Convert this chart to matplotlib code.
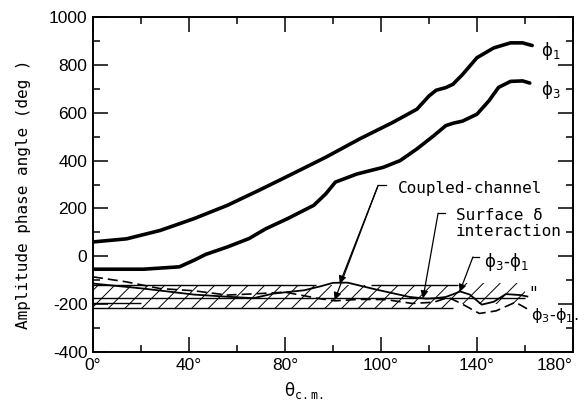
import matplotlib
matplotlib.use("Agg")
import matplotlib.pyplot as plt

# angle axis is drawn on a 0..200 scale, labels copied as printed in the figure
x_ticks = [0, 40, 80, 120, 160, 200]
x_labels = ["0°", "40°", "80°", "100°", "140°", "180°"]
y_ticks = [-400, -200, 0, 200, 400, 600, 800, 1000]

phi1_x = [0, 14, 28, 42, 56, 69, 83, 97, 111, 125, 135, 140, 143, 147, 150, 154, 160, 167, 174, 179, 183]
phi1_y = [60, 73, 108, 157, 213, 275, 344, 414, 490, 560, 615, 670, 694, 705, 719, 760, 830, 871, 892, 892, 881]

phi3_x = [0, 21, 36, 42, 47, 56, 65, 72, 81, 92, 97, 101, 110, 121, 128, 135, 142, 147, 150, 154, 160,
          165, 169, 174, 179, 182]
phi3_y = [-54, -54, -44, -17, 8, 39, 74, 115, 157, 213, 261, 310, 344, 372, 400, 449, 504, 546, 556, 565,
          594, 650, 706, 731, 733, 724]

# phi3 - phi1, coupled channel (solid) and surface delta (dashed)
cc_x = [0, 21, 42, 56, 67, 75, 88, 95, 100, 106, 118, 132, 139, 143, 147, 151, 153, 157, 162, 167, 172, 178, 181]
cc_y = [-114, -135, -160, -169, -175, -156, -142, -125, -111, -110, -139, -170, -177, -175, -170, -155, -147,
        -160, -202, -190, -158, -162, -168]

sd_x = [0, 14, 28, 42, 56, 69, 80, 88, 95, 101, 111, 122, 133, 142, 148, 153, 161, 168, 176, 181]
sd_y = [-86, -107, -135, -144, -162, -156, -150, -165, -178, -186, -180, -181, -197, -192, -172, -195, -239,
        -228, -192, -220]

plt.rcParams["axes.unicode_minus"] = False
plt.rcParams["hatch.linewidth"] = 0.7
mono = "DejaVu Sans Mono"

fig = plt.figure(figsize=(5.79, 4.13), dpi=100)
ax = fig.add_axes([0.1606, 0.1477, 0.829, 0.8111])

# hatched band
ax.fill_between([0, 150], -120, -215, hatch="//", facecolor="none", edgecolor="k", linewidth=0)
ax.fill_between([150, 180], -110, -200, hatch="//", facecolor="none", edgecolor="k", linewidth=0)
ax.hlines(-120, 0, 93, color="k", lw=1.0)
ax.hlines(-120, 116, 152, color="k", lw=1.0)
ax.hlines(-175, 0, 180, color="k", lw=1.0)
ax.hlines(-195, 0, 20, color="k", lw=1.0)
ax.hlines(-215, 0, 150, color="k", lw=1.0)

ax.plot(phi1_x, phi1_y, color="k", lw=2.6, solid_capstyle="round")
ax.plot(phi3_x, phi3_y, color="k", lw=2.6, solid_capstyle="round")
ax.plot(cc_x, cc_y, color="k", lw=1.3)
ax.plot(sd_x, sd_y, color="k", lw=1.2, ls=(0, (6, 3)))

arrow = dict(arrowstyle="-|>", color="k", lw=0.9, shrinkA=0, shrinkB=0, mutation_scale=11)

# Coupled-channel
ax.plot([118.8, 122.2], [296, 296], color="k", lw=0.9)
ax.annotate("", xy=(102.8, -114), xytext=(118.8, 296), arrowprops=arrow)
ax.annotate("", xy=(100.7, -183), xytext=(118.8, 296), arrowprops=arrow)
ax.text(127, 284, "Coupled-channel", family=mono, fontsize=11.5, va="center")

# Surface delta interaction
ax.plot([143.8, 146.5], [180, 180], color="k", lw=0.9)
ax.annotate("", xy=(137.5, -176), xytext=(143.8, 180), arrowprops=arrow)
ax.text(151.2, 136, "Surface δ\ninteraction", family=mono, fontsize=11.5, va="center", linespacing=1.05)

# phi3 - phi1
ax.plot([158.3, 161.0], [-3, -3], color="k", lw=0.9)
ax.annotate("", xy=(152.8, -149), xytext=(158.3, -3), arrowprops=arrow)
ax.text(163, -22, "ϕ$_3$-ϕ$_1$", fontsize=12, va="center")

ax.text(186.5, 858, "ϕ$_1$", fontsize=12, va="center")
ax.text(186.5, 695, "ϕ$_3$", fontsize=12, va="center")
ax.text(182.0, -158, '"', fontsize=12, va="center")
ax.text(182.5, -248, "ϕ$_3$-ϕ$_1$.", fontsize=11.5, va="center")

ax.set_xlim(0, 200)
ax.set_ylim(-400, 1000)
ax.set_xticks(x_ticks)
ax.set_xticklabels(x_labels)
ax.set_xticks(range(20, 200, 40), minor=True)
ax.set_yticks(y_ticks)
ax.set_yticks(range(-300, 1000, 200), minor=True)

ax.tick_params(which="both", direction="in", top=True, right=True, width=1.1, labelsize=12.5, pad=4)
ax.tick_params(which="major", length=11)
ax.tick_params(which="minor", length=5)
for lab in ax.get_xticklabels() + ax.get_yticklabels():
    lab.set_family("Liberation Sans")
ax.get_xticklabels()[-1].set_ha("right")
for s in ax.spines.values():
    s.set_linewidth(1.4)

ax.set_ylabel("Amplitude phase angle (deg )", family=mono, fontsize=11.5)
ax.yaxis.set_label_coords(-0.13, 0.47)
ax.set_xlabel("θ$_{\\mathtt{c.m.}}$", fontsize=12)
ax.xaxis.set_label_coords(0.44, -0.085)

fig.savefig("out.png", dpi=100)
